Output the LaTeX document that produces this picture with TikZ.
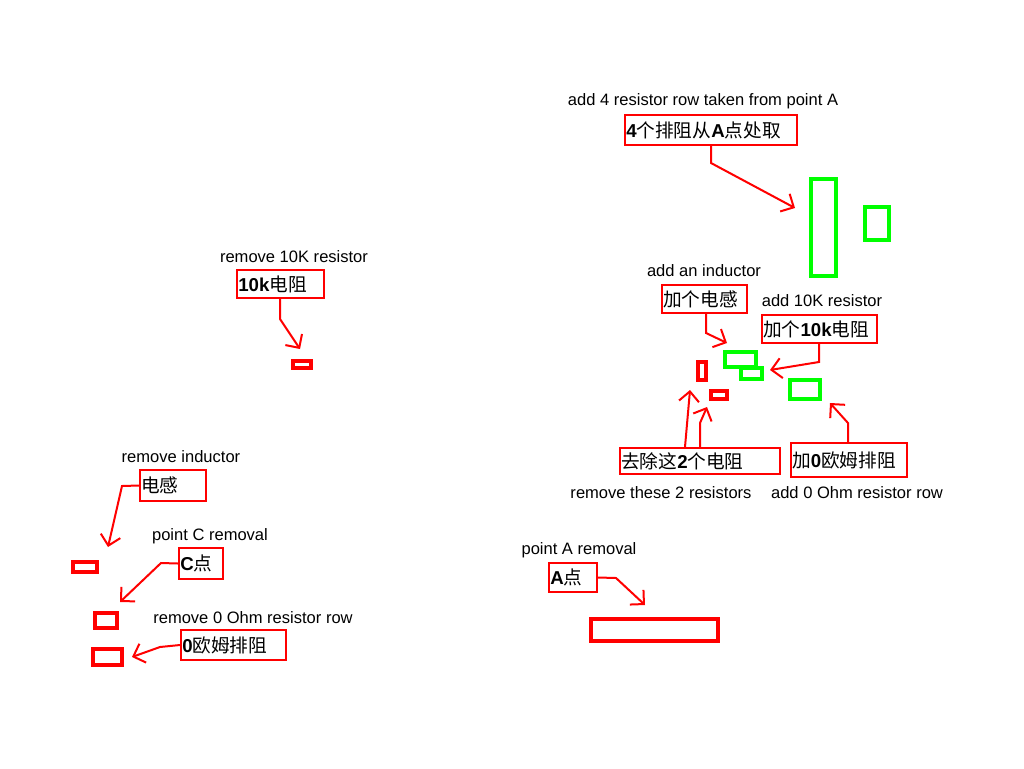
\documentclass[tikz,border=0pt]{standalone}
\usepackage{fontspec}
\setmainfont{Liberation Sans}
\newfontfamily\cjk{Noto Sans CJK SC}
\usepackage{tikz}
\usetikzlibrary{arrows.meta,fit}
\definecolor{markred}{HTML}{FF0000}
\definecolor{markgreen}{HTML}{00FF00}
\newcommand{\lb}[1]{{\rmfamily\bfseries #1}}

\begin{document}
\begin{tikzpicture}[x=0.75pt, y=-0.75pt,
  note/.style={font=\fontsize{12.4}{14}\selectfont, inner sep=0pt},
  tagbox/.style={draw=markred, line width=1.5pt, inner sep=0pt},
  tagtext/.style={font=\cjk\fontsize{14}{16}\selectfont, inner sep=0pt, anchor=west},
  oldpart/.style={draw=markred, line width=2.4pt},
  newpart/.style={draw=markgreen, line width=2.4pt},
  callout/.style={draw=markred, line width=1.5pt, -{Straight Barb[length=7.5pt,width=15pt]}}]
\useasboundingbox (0,0) rectangle (1024,768);

% ---- upper right : resistor row taken over from point A ----
\node[note] (nAddRow) at (703,101) {add 4 resistor row taken from point A};
\node[tagbox, fit={(625,115) (797,145)}] (tAddRow) {};
\node[tagtext] (xAddRow) at ([xshift=1.5pt]tAddRow.west) {\lb{4}个排阻从\lb{A}点处取};
\draw[newpart] (811,179) rectangle (836,276);
\draw[newpart] (865,207) rectangle (889,240);
\coordinate (cAddRowBend) at (711,163);
\coordinate (cAddRowTip) at (795,208);
\draw[callout] (tAddRow.south -| cAddRowBend) -- (cAddRowBend) -- (cAddRowTip);

% ---- added inductor and 10K resistor ----
\node[note] (nAddInd) at (704,271) {add an inductor};
\node[tagbox, fit={(662,285) (747,313)}] (tAddInd) {};
\node[tagtext] (xAddInd) at ([xshift=1.5pt]tAddInd.west) {加个电感};
\coordinate (cAddIndBend) at (706,333);
\coordinate (cAddIndTip) at (727,343);
\draw[callout] (tAddInd.south -| cAddIndBend) -- (cAddIndBend) -- (cAddIndTip);

\node[note] (nAdd10k) at (822,301) {add 10K resistor};
\node[tagbox, fit={(762,315) (877,343)}] (tAdd10k) {};
\node[tagtext] (xAdd10k) at ([xshift=1.5pt]tAdd10k.west) {加个\lb{10k}电阻};
\coordinate (cAdd10kBend) at (819,362);
\coordinate (cAdd10kTip) at (770,370);
\draw[callout] (tAdd10k.south -| cAdd10kBend) -- (cAdd10kBend) -- (cAdd10kTip);

\draw[newpart] (725,352) rectangle (756,367);
\draw[newpart] (741,368) rectangle (762,379);
\draw[newpart] (790,380) rectangle (820,399);
\draw[oldpart] (698,362) rectangle (706,380);
\draw[oldpart] (711,391) rectangle (727,399);

% ---- two resistors out, 0 Ohm row in ----
\node[tagbox, fit={(620,448) (780,474)}] (tDelTwo) {};
\node[tagtext] (xDelTwo) at ([xshift=1.5pt]tDelTwo.west) {去除这\lb{2}个电阻};
\node[note] (nDelTwo) at (661,493) {remove these 2 resistors};
\coordinate (cDelTwoFoot) at (685,0);
\coordinate (cDelTwoTipL) at (690,390);
\coordinate (cDelTwoBend) at (700,423);
\coordinate (cDelTwoTipR) at (707,407);
\draw[callout] (tDelTwo.north -| cDelTwoFoot) -- (cDelTwoTipL);
\draw[callout] (tDelTwo.north -| cDelTwoBend) -- (cDelTwoBend) -- (cDelTwoTipR);

\node[tagbox, fit={(791,443) (907,477)}] (tAddZero) {};
\node[tagtext] (xAddZero) at ([xshift=1.5pt]tAddZero.west) {加\lb{0}欧姆排阻};
\node[note] (nAddZero) at (857,493) {add 0 Ohm resistor row};
\coordinate (cAddZeroBend) at (848,423);
\coordinate (cAddZeroTip) at (830,403);
\draw[callout] (tAddZero.north -| cAddZeroBend) -- (cAddZeroBend) -- (cAddZeroTip);

% ---- point A ----
\node[note] (nDelA) at (579,550) {point A removal};
\node[tagbox, fit={(549,563) (597,592)}] (tDelA) {};
\node[tagtext] (xDelA) at ([xshift=1.5pt]tDelA.west) {\lb{A}点};
\coordinate (cDelABend) at (616,578);
\coordinate (cDelATip) at (645,605);
\draw[callout] (tDelA.east) -- (cDelABend) -- (cDelATip);
\draw[oldpart, line width=3.4pt] (591,619) rectangle (718,641);

% ---- left : 10K resistor ----
\node[note] (nDel10k) at (294,257) {remove 10K resistor};
\node[tagbox, fit={(237,270) (324,298)}] (tDel10k) {};
\node[tagtext] (xDel10k) at ([xshift=1.5pt]tDel10k.west) {\lb{10k}电阻};
\coordinate (cDel10kBend) at (280,319);
\coordinate (cDel10kTip) at (300,349);
\draw[callout] (tDel10k.south -| cDel10kBend) -- (cDel10kBend) -- (cDel10kTip);
\draw[oldpart] (293,361) rectangle (311,368);

% ---- left : inductor, point C, 0 Ohm row ----
\node[note] (nDelInd) at (181,457) {remove inductor};
\node[tagbox, fit={(140,470) (206,501)}] (tDelInd) {};
\node[tagtext] (xDelInd) at ([xshift=1.5pt]tDelInd.west) {电感};
\coordinate (cDelIndBend) at (122,486);
\coordinate (cDelIndTip) at (108,547);
\draw[callout] (tDelInd.west) -- (cDelIndBend) -- (cDelIndTip);
\draw[oldpart] (73,562) rectangle (97,572);

\node[note] (nDelC) at (210,536) {point C removal};
\node[tagbox, fit={(179,548) (223,579)}] (tDelC) {};
\node[tagtext] (xDelC) at ([xshift=1.5pt]tDelC.west) {\lb{C}点};
\coordinate (cDelCBend) at (161,563);
\coordinate (cDelCTip) at (120,602);
\draw[callout] (tDelC.west) -- (cDelCBend) -- (cDelCTip);
\draw[oldpart] (95,613) rectangle (117,628);

\node[note] (nDelZero) at (253,618) {remove 0 Ohm resistor row};
\node[tagbox, fit={(181,630) (286,660)}] (tDelZero) {};
\node[tagtext] (xDelZero) at ([xshift=1.5pt]tDelZero.west) {\lb{0}欧姆排阻};
\coordinate (cDelZeroBend) at (160,647);
\coordinate (cDelZeroTip) at (132,657);
\draw[callout] (tDelZero.west) -- (cDelZeroBend) -- (cDelZeroTip);
\draw[oldpart] (93,649) rectangle (122,665);
\end{tikzpicture}
\end{document}
